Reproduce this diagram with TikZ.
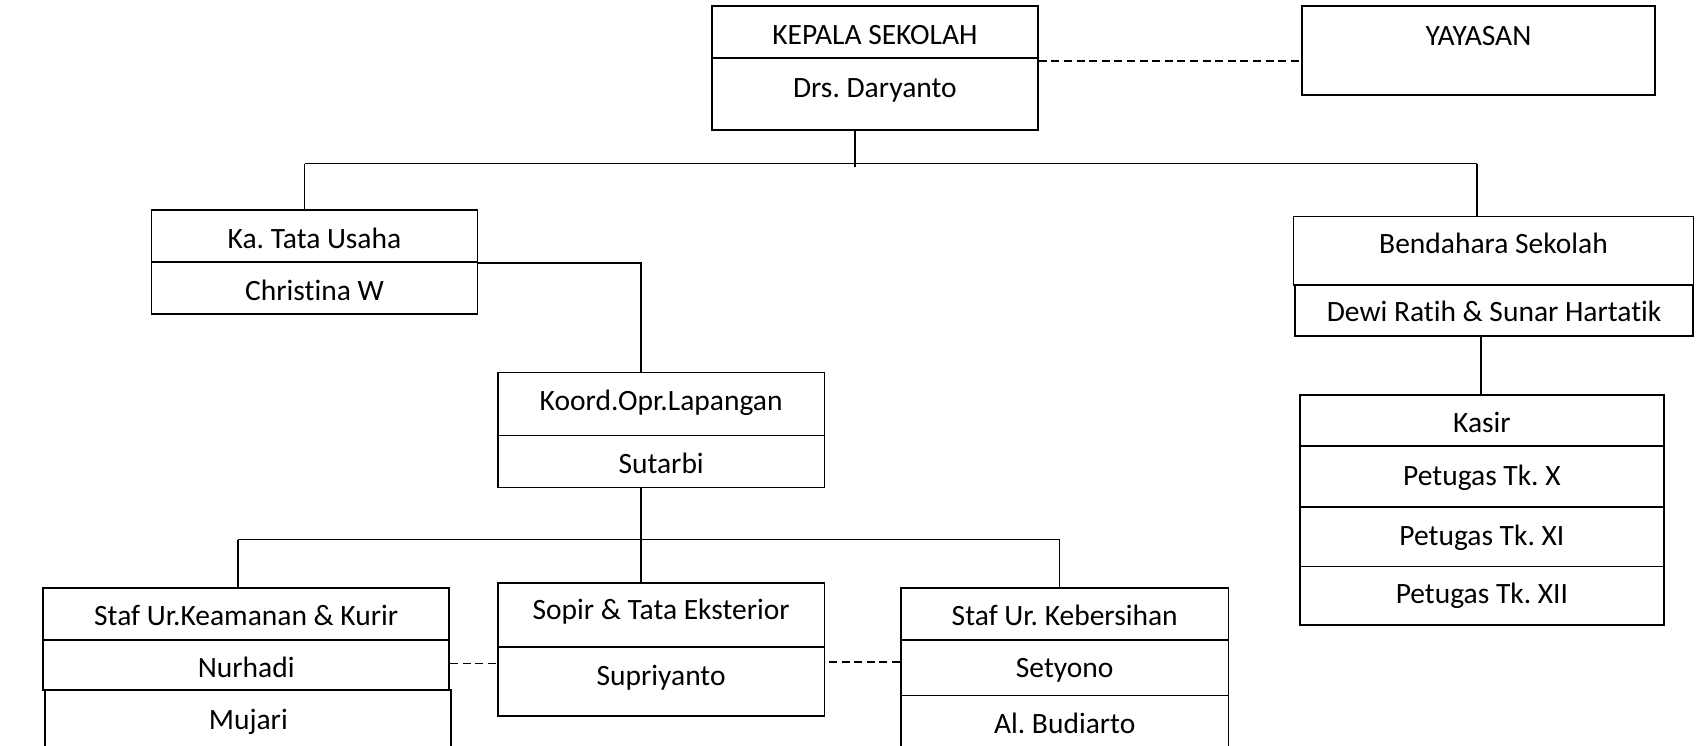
\documentclass[tikz,border=0pt]{standalone}
\usepackage{fontspec}
\setmainfont{Carlito}[Ligatures=NoCommon]
\newcommand\myLift[2]{\raisebox{#1}[\height][\depth]{#2}}
\begin{document}
\frenchspacing
\begin{tikzpicture}[x=1pt,y=-1pt,
  txt/.style={font=\fontsize{29.5}{34}\selectfont, text height=27pt, text depth=2pt},
  cell/.style={txt, draw, line width=1.8pt, anchor=north west, inner sep=0pt, align=center},
  conn/.style={line width=1.4pt},
  dashconn/.style={line width=1.4pt, dash pattern=on 8pt off 4.6pt}]
\clip (0,0) rectangle (1699,746);
\useasboundingbox (0,0) rectangle (1699,746);
% top
\node[cell, minimum width=326pt, minimum height=52pt] (kep1) at (711,5.4) {KEPALA SEKOLAH};
\node[cell, minimum width=326pt, minimum height=71.6pt] (kep2) at (711,57.4) {\myLift{8.7pt}{Drs. Daryanto}};
\node[cell, minimum width=353pt, minimum height=89pt,
  label={[txt, anchor=north, inner sep=0pt, yshift=-12.7pt]north:YAYASAN}] (yay) at (1301,5.4) {};
% Ka. Tata Usaha
\node[cell, minimum width=326pt, minimum height=52pt] (ka1) at (150.6,209) {Ka. Tata Usaha};
\node[cell, minimum width=326pt, minimum height=52pt] (ka2) at (150.6,261) {Christina W};
% Koord
\node[cell, minimum width=326.5pt, minimum height=63pt] (koo1) at (497,371.6) {\myLift{6.5pt}{Koord.Opr.Lapangan}};
\node[cell, minimum width=326.5pt, minimum height=52pt] (koo2) at (497,434.5) {Sutarbi};
% bottom left
\node[cell, minimum width=406pt, minimum height=52.3pt] (staf1) at (42.3,587) {\myLift{1pt}{Staf Ur.Keamanan \& Kurir}};
\node[cell, minimum width=406pt, minimum height=49.7pt] (staf2) at (42.3,639.3) {Nurhadi};
\node[cell, minimum width=406pt, minimum height=70pt] (muj) at (44.4,689) {\myLift{8pt}{Mujari}};
% Sopir
\node[cell, minimum width=326.5pt, minimum height=63.8pt] (sop1) at (497,582) {\myLift{8.2pt}{Sopir \& Tata Eksterior}};
\node[cell, minimum width=326.5pt, minimum height=69pt] (sop2) at (497,645.8) {\myLift{8.6pt}{Supriyanto}};
% Kebersihan
\node[cell, minimum width=327.6pt, minimum height=52.3pt] (keb1) at (900,587) {\myLift{1pt}{Staf Ur. Kebersihan}};
\node[cell, minimum width=327.6pt, minimum height=55.2pt] (keb2) at (900,639.3) {\myLift{2.8pt}{Setyono}};
\node[cell, minimum width=327.6pt, minimum height=70pt] (keb3) at (900,694.5) {\myLift{9pt}{Al. Budiarto}};
% Bendahara
\node[cell, minimum width=400pt, minimum height=68.4pt] (ben1) at (1292.6,215.6) {\myLift{9.3pt}{Bendahara Sekolah}};
\node[cell, minimum width=398.4pt, minimum height=50.8pt] (ben2) at (1294,284) {\myLift{1.7pt}{Dewi Ratih \& Sunar Hartatik}};
% Kasir
\node[cell, minimum width=364pt, minimum height=50.9pt] (kas1) at (1299,394.4) {\myLift{0.5pt}{Kasir}};
\node[cell, minimum width=364pt, minimum height=60.7pt] (kas2) at (1299,445.3) {\myLift{3.3pt}{Petugas Tk. X}};
\node[cell, minimum width=364pt, minimum height=59.6pt] (kas3) at (1299,506) {\myLift{3.9pt}{Petugas Tk. XI}};
\node[cell, minimum width=364pt, minimum height=58.4pt] (kas4) at (1299,565.6) {\myLift{4.3pt}{Petugas Tk. XII}};
% coordinates
\coordinate (j1) at (855,163.6);
\coordinate (busL) at (304.5,163.6);
\coordinate (busR) at (1477,163.6);
\coordinate (kc) at (641,0);
\coordinate (bus2L) at (238,539.6);
\coordinate (bus2R) at (1059.7,539.6);
\coordinate (kx) at (1481,0);
% connectors
\draw[dashconn] ([yshift=-2pt]kep1.south east) -- ([yshift=-2pt]kep1.south east -| yay.west);
\draw[conn] (kep2.south -| j1) -- ([yshift=-3pt]j1);
\draw[conn] (busL) -- (busR);
\draw[conn] (busL) -- (busL |- ka1.north);
\draw[conn] (busR) -- (busR |- ben1.north);
\draw[conn] (ka1.south east) -- (ka1.south east -| kc) -- (kc |- koo1.north);
\draw[conn] (koo2.south -| kc) -- (kc |- sop1.north);
\draw[conn] (bus2L) -- (bus2R);
\draw[conn] (bus2L) -- (bus2L |- staf1.north);
\draw[conn] (bus2R) -- (bus2R |- keb1.north);
\draw[dashconn] ([yshift=1.5pt]staf2.east) -- ([yshift=1.5pt]staf2.east -| sop2.west);
\draw[dashconn] ([yshift=6pt]keb2.west) -- ([yshift=6pt]keb2.west -| sop2.east);
\draw[conn] (ben2.south -| kx) -- (kas1.north -| kx);
\end{tikzpicture}
\end{document}
